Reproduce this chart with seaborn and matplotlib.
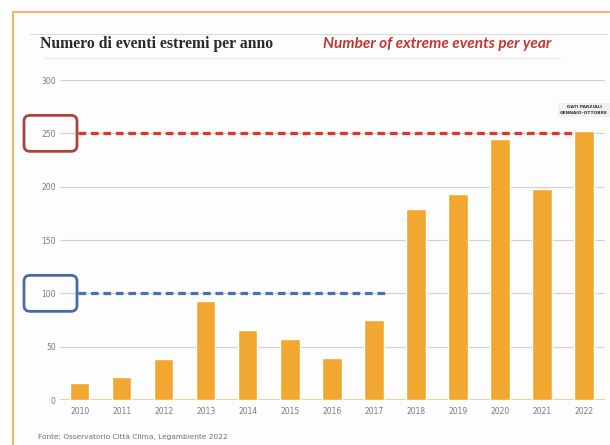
import matplotlib
matplotlib.use("Agg")
import matplotlib.pyplot as plt
import matplotlib.transforms as mtransforms
from matplotlib.patches import FancyBboxPatch, Rectangle
from matplotlib.lines import Line2D
import seaborn as sns
import pandas as pd

# Extreme weather events recorded in Italian cities per year
years = ["2010", "2011", "2012", "2013", "2014", "2015", "2016",
         "2017", "2018", "2019", "2020", "2021", "2022"]
events = [16, 22, 38, 93, 66, 57, 39, 75, 179, 193, 245, 198, 252]
y_ticks = [0, 50, 100, 150, 200, 250, 300]
y_tick_labels = ["0", "50", "100", "150", "200", "250", "300"]

# Reference levels highlighted on the chart
level_high = 250
level_low = 100

title_it = "Numero di eventi estremi per anno"
title_en = "Number of extreme events per year"
note_partial = "DATI PARZIALI\nGENNAIO-OTTOBRE"
source = "Fonte: Osservatorio Città Clima, Legambiente 2022"

bar_color = "#F2A730"
red = "#E3342B"
blue = "#4A70AE"

sns.set_theme(style="white")
plt.rcParams["font.family"] = ["DejaVu Sans"]

W, H = 610, 445
fig = plt.figure(figsize=(W / 100, H / 100), dpi=100)
fig.patch.set_facecolor("#FDFDFD")

def fx(px):
    return px / W

def fy(py):
    return 1 - py / H

ax = fig.add_axes([fx(60), fy(400), fx(605) - fx(60), fy(80) - fy(400)])
ax.set_facecolor("#FDFDFD")

df = pd.DataFrame({"anno": years, "eventi": events})
sns.barplot(data=df, x="anno", y="eventi", color=bar_color, width=0.46,
            saturation=1, ax=ax, zorder=3)

ax.set_xlim(-0.47, 12.5)
ax.set_ylim(0, 300)
ax.set_yticks(y_ticks)
ax.set_yticklabels(y_tick_labels)
ax.set_xlabel("")
ax.set_ylabel("")
for s in ax.spines.values():
    s.set_visible(False)
ax.tick_params(axis="y", length=0, pad=3, labelsize=5.5, labelcolor="#7A7A7A")
ax.tick_params(axis="x", length=0, pad=5, labelsize=5.5, labelcolor="#7A7A7A")

# horizontal grid lines
for t in y_ticks[1:]:
    ax.axhline(t, color="#D2D2D2", lw=0.8, zorder=1)
ax.axhline(0, color="#F5C77A", lw=1.2, zorder=2)

# dashed reference levels
ax.hlines(level_high, -0.04, 11.75, colors=red, lw=2.3, linestyles=(0, (2.4, 1.5)), zorder=4)
ax.hlines(level_low, -0.04, 7.3, colors=blue, lw=2.3, linestyles=(0, (2.4, 1.5)), zorder=4)

# rounded frames around the highlighted tick labels (pixel units)
for lvl, col in [(level_high, "#A8453D"), (level_low, "#4A6AA8")]:
    yc = ax.transData.transform((0, lvl))[1]
    box = FancyBboxPatch((24, yc - 18), 53, 36,
                         boxstyle="round,pad=0,rounding_size=6",
                         transform=mtransforms.IdentityTransform(),
                         fill=False, edgecolor=col, lw=2.0, clip_on=False)
    fig.add_artist(box)

# partial-data note above the last bar
ax.text(12, 272, note_partial, ha="center", va="center", fontsize=3.2,
        fontweight="bold", color="#333333", linespacing=1.6,
        bbox=dict(boxstyle="square,pad=0.5", fc="#F1F1F1", ec="none"), zorder=5)

# titles and rules
fig.add_artist(Line2D([fx(30), fx(607)], [fy(34), fy(34)], color="#DADADA", lw=0.8))
fig.add_artist(Line2D([fx(45), fx(560)], [fy(58), fy(58)], color="#E6E6E6", lw=0.8))
fig.text(fx(40), fy(44), title_it, ha="left", va="center", fontsize=11.3,
         fontweight="bold", family=["Liberation Serif"], color="#2A2A2A")
fig.text(fx(323), fy(44), title_en, ha="left", va="center", fontsize=11.1,
         fontweight="bold", style="italic", family=["Lato"], color="#C4362F")

fig.text(fx(38), fy(437), source, ha="left", va="center", fontsize=5.3,
         color="#6F6F6F")

# orange outer frame
fig.add_artist(Rectangle((fx(13), -0.1), 1.2, fy(12) + 0.1, transform=fig.transFigure,
                         fill=False, edgecolor="#F6B45E", lw=1.4))

fig.savefig("out.png", dpi=100, facecolor=fig.get_facecolor())
